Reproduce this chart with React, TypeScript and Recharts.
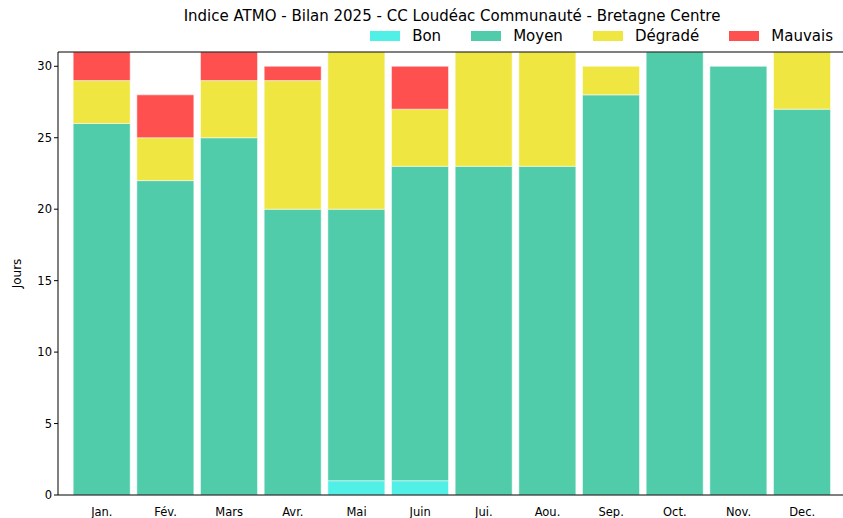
import React from "react"
import { BarChart, Bar, XAxis, YAxis, ReferenceLine } from "recharts"

const months = ["Jan.", "Fév.", "Mars", "Avr.", "Mai", "Juin", "Jui.", "Aou.", "Sep.", "Oct.", "Nov.", "Dec."]
const bon = [0, 0, 0, 0, 1, 1, 0, 0, 0, 0, 0, 0]
const moyen = [26, 22, 25, 20, 19, 22, 23, 23, 28, 31, 30, 27]
const degrade = [3, 3, 4, 9, 11, 4, 8, 8, 2, 0, 0, 4]
const mauvais = [2, 3, 2, 1, 0, 3, 0, 0, 0, 0, 0, 0]
const yTicks = [0, 5, 10, 15, 20, 25, 30]

const series = [
  { key: "bon", name: "Bon", color: "#50F0E6" },
  { key: "moyen", name: "Moyen", color: "#50CCAA" },
  { key: "degrade", name: "Dégradé", color: "#F0E641" },
  { key: "mauvais", name: "Mauvais", color: "#FF5050" },
]

const data = months.map((m, i) => ({
  month: m,
  bon: bon[i],
  moyen: moyen[i],
  degrade: degrade[i],
  mauvais: mauvais[i],
}))

const font = "'DejaVu Sans', sans-serif"

export default function App() {
  return (
    <div style={{ position: "fixed", top: 0, left: 0, width: 843, height: 518, overflow: "hidden", fontFamily: font, background: "#fff" }}>
      <div style={{ position: "absolute", top: 7, left: 0, width: 904, textAlign: "center", fontSize: 15, color: "#000", whiteSpace: "nowrap" }}>
        Indice ATMO - Bilan 2025 - CC Loudéac Communauté - Bretagne Centre
      </div>
      <div style={{ position: "absolute", top: 27, right: 10, display: "flex", fontSize: 15, color: "#000" }}>
        {series.map((s) => (
          <div key={s.key} style={{ display: "flex", alignItems: "center", marginLeft: 30 }}>
            <span style={{ display: "inline-block", width: 30, height: 10, background: s.color, marginRight: 12 }} />
            <span>{s.name}</span>
          </div>
        ))}
      </div>
      <BarChart
        width={850}
        height={518}
        data={data}
        margin={{ top: 52, right: 4, bottom: 0, left: 0 }}
        barCategoryGap="5%"
      >
        <XAxis
          dataKey="month"
          padding={{ left: 12, right: 12 }}
          height={23}
          tickLine={false}
          axisLine={{ stroke: "#000" }}
          tick={{ fontSize: 11.5, fill: "#000", fontFamily: font }}
          tickMargin={7}
          interval={0}
        />
        <YAxis
          width={58}
          domain={[0, 31]}
          ticks={yTicks}
          allowDataOverflow
          axisLine={{ stroke: "#000" }}
          tickLine={{ stroke: "#000" }}
          tickSize={4}
          tick={{ fontSize: 11.5, fill: "#000", fontFamily: font }}
          label={{ value: "Jours", angle: -90, position: "insideLeft", offset: 17, style: { fontSize: 12, fill: "#000", fontFamily: font, textAnchor: "middle" } }}
        />
        <ReferenceLine y={31} stroke="#000" />
        {series.map((s) => (
          <Bar key={s.key} dataKey={s.key} name={s.name} stackId="a" fill={s.color} stroke="#fff" strokeWidth={0.5} isAnimationActive={false} />
        ))}
      </BarChart>
    </div>
  )
}
